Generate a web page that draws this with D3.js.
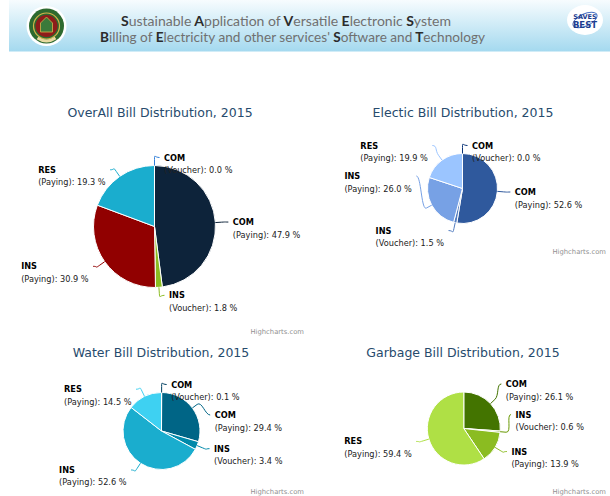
<!DOCTYPE html>
<html>
<head>
<meta charset="utf-8">
<script src="https://cdn.jsdelivr.net/npm/d3@7"></script>
<style>
  body { margin: 0; background: #fff; }
  svg { display: block; }
</style>
</head>
<body>
<div id="chart"></div>
<script>
// slice names, in drawing order (clockwise from 12 o'clock)
const categories = ["COM", "COM", "INS", "INS", "RES"];
const kinds = ["Voucher", "Paying", "Voucher", "Paying", "Paying"];

// shares in percent
const overallValues = [0.0, 47.9, 1.8, 30.9, 19.3];
const electricValues = [0.0, 52.6, 1.5, 26.0, 19.9];
const waterValues = [0.1, 29.4, 3.4, 52.6, 14.5];
const garbageValues = [null, 26.1, 0.6, 13.9, 59.4];

const chartTitles = [
  "OverAll Bill Distribution, 2015",
  "Electic Bill Distribution, 2015",
  "Water Bill Distribution, 2015",
  "Garbage Bill Distribution, 2015"
];
const headerLines = [
  "Sustainable Application of Versatile Electronic System",
  "Billing of Electricity and other services' Software and Technology"
];

const defaultColors = ["#2f7ed8", "#0d233a", "#8bbc21", "#910000", "#1aadce"];

// same shading rule as the highcharts monochrome pie demo
function brighten(hex, alpha) {
  const c = d3.rgb(hex), k = parseInt(alpha * 255);
  const cl = v => Math.max(0, Math.min(255, v));
  return d3.rgb(cl(c.r + k), cl(c.g + k), cl(c.b + k)).formatHex();
}
function monochrome(base) {
  return categories.map((_, i) => brighten(base, (i - 3) / 7));
}

const width = 610;
const height = 496;
const font = "'DejaVu Sans', Verdana, sans-serif";

const panels = [
  { values: overallValues, colors: defaultColors, title: chartTitles[0],
    tx: 160, ty: 117, cx: 154.5, cy: 226.5, r: 61, credX: 304, credY: 333.5 },
  { values: electricValues, colors: monochrome("#77a1e5"), title: chartTitles[1],
    tx: 463, ty: 117, cx: 462.5, cy: 188.5, r: 35, credX: 606, credY: 253.5 },
  { values: waterValues, colors: monochrome("#1aadce"), title: chartTitles[2],
    tx: 161, ty: 357, cx: 161.5, cy: 431, r: 38.5, credX: 304, credY: 493.5 },
  { values: garbageValues, colors: monochrome("#8bbc21"), title: chartTitles[3],
    tx: 463, ty: 357, cx: 463.8, cy: 428.5, r: 36.5, credX: 606, credY: 493.5 }
];

const svg = d3.select("#chart").append("svg")
    .attr("width", width)
    .attr("height", height)
    .attr("viewBox", [0, 0, width, height]);

// ---- header band ----
const defs = svg.append("defs");
const grad = defs.append("linearGradient")
    .attr("id", "band").attr("x1", 0).attr("y1", 0).attr("x2", 0).attr("y2", 1);
grad.append("stop").attr("offset", "0%").attr("stop-color", "#f7fcfe");
grad.append("stop").attr("offset", "100%").attr("stop-color", "#a4d9ef");

svg.append("rect")
    .attr("x", 9).attr("y", 0)
    .attr("width", width - 9).attr("height", 51.5)
    .attr("fill", "url(#band)");

// left seal
const seal = svg.append("g").attr("transform", "translate(46.5,26)");
seal.append("circle").attr("r", 20).attr("fill", "#fff");
seal.append("circle").attr("r", 17.5).attr("fill", "#2d6a2f");
seal.append("circle").attr("r", 13).attr("fill", "none").attr("stroke", "#d3b44a").attr("stroke-width", 1.2);
seal.append("circle").attr("r", 11).attr("fill", "#8d1d1a");
seal.append("path").attr("d", "M-6,-3L0,-9L6,-3V6H-6Z").attr("fill", "#3b7a3a").attr("stroke", "#d3b44a").attr("stroke-width", 0.8);
seal.append("path").attr("d", "M-9,12Q0,18 9,12").attr("fill", "none").attr("stroke", "#e7d9a0").attr("stroke-width", 3);

// right logo
const logo = svg.append("g").attr("transform", "translate(585,20)");
logo.append("ellipse").attr("rx", 18).attr("ry", 15).attr("fill", "#fff");
logo.append("ellipse").attr("rx", 13).attr("ry", 6).attr("fill", "none")
    .attr("stroke", "#4a72c4").attr("stroke-width", 1)
    .attr("transform", "rotate(-25)");
logo.append("text").attr("y", -1).attr("text-anchor", "middle")
    .attr("font-family", "'DejaVu Sans'").attr("font-weight", "bold")
    .attr("font-size", 6.5).attr("fill", "#1c3d8f").text("SAVES");
logo.append("text").attr("y", 8).attr("text-anchor", "middle")
    .attr("font-family", "'DejaVu Sans'").attr("font-weight", "bold")
    .attr("font-size", 8.5).attr("fill", "#1c3d8f").text("BEST");

// header text: capital initials drawn dark and bold
const headerPos = [{ x: 121, y: 26, w: 330 }, { x: 100, y: 41.5, w: 385 }];
headerLines.forEach((line, k) => {
  const t = svg.append("text")
      .attr("x", headerPos[k].x).attr("y", headerPos[k].y)
      .attr("font-family", "Lato, 'Open Sans', sans-serif")
      .attr("font-size", 12.5)
      .attr("fill", "#707070")
      .attr("textLength", headerPos[k].w)
      .attr("lengthAdjust", "spacingAndGlyphs");
  line.split(" ").forEach((word, j) => {
    const lead = j > 0 ? " " : "";
    if (/[A-Z]/.test(word[0])) {
      t.append("tspan").attr("fill", "#2b2b2b").attr("font-weight", "bold").text(lead + word[0]);
      t.append("tspan").text(word.slice(1));
    } else {
      t.append("tspan").text(lead + word);
    }
  });
});

// ---- pies ----
const pie = d3.pie().sort(null).value(d => d.value);

// highcharts-like label slots: labels are kept apart on each side
function layoutLabels(arcs, p) {
  const R = p.r + 8, h = 30.5;
  const pts = arcs.map(a => {
    const t = (a.startAngle + a.endAngle) / 2;
    return { a, t, half: t > Math.PI ? 1 : 0, natY: p.cy - R * Math.cos(t) };
  });
  [0, 1].forEach(half => {
    const list = pts.filter(q => q.half === half).sort((u, v) => u.natY - v.natY);
    const slots = [];
    for (let s = p.cy - R; s <= p.cy + R + 0.01; s += h) slots.push(s);
    const n = slots.length, len = list.length;
    const used = [];
    list.forEach((q, j) => {
      let best = 1e9, idx = 0;
      for (let k = 0; k < n; k++) {
        const dist = Math.abs(slots[k] - q.natY);
        if (dist < best) { best = dist; idx = k; }
      }
      if (idx < j && slots[j] !== null) {
        idx = j;
      } else if (n < len - j + idx && slots[j] !== null) {
        idx = n - len + j;
        while (slots[idx] === null) idx++;
      } else {
        while (slots[idx] === null) idx++;
      }
      used.push({ i: idx, y: slots[idx] });
      slots[idx] = null;
    });
    used.sort((u, v) => v.y - u.y);
    list.forEach(q => {
      const s = used.pop();
      let y = s.y;
      if ((q.natY > y && slots[s.i + 1] !== null) || (q.natY < y && slots[s.i - 1] !== null)) y = q.natY;
      q.y = y;
      q.edge = s.i === 0 || s.i === n - 1;
    });
  });
  pts.forEach(q => {
    const yy = q.edge ? q.natY : q.y;
    const s = Math.max(-1, Math.min(1, (yy - p.cy) / R));
    q.x = p.cx + (q.half ? -1 : 1) * Math.cos(Math.asin(s)) * R;
  });
  return pts;
}

panels.forEach(p => {
  svg.append("text")
      .attr("x", p.tx).attr("y", p.ty)
      .attr("text-anchor", "middle")
      .attr("font-family", font)
      .attr("font-size", 12.5)
      .attr("fill", "#274b6d")
      .text(p.title);

  const rows = p.values
      .map((v, i) => ({ i, value: v }))
      .filter(d => d.value !== null);
  const arcs = pie(rows);
  const arc = d3.arc().innerRadius(0).outerRadius(p.r);

  const g = svg.append("g").attr("transform", `translate(${p.cx},${p.cy})`);
  g.selectAll("path")
    .data(arcs)
    .join("path")
      .attr("d", arc)
      .attr("fill", d => p.colors[d.data.i])
      .attr("stroke", "#fff")
      .attr("stroke-width", 1)
      .attr("stroke-linejoin", "round");

  const pts = layoutLabels(arcs, p);

  pts.forEach(q => {
    const i = q.a.data.i;
    const sx = Math.sin(q.t), sy = -Math.cos(q.t);
    const ex = p.cx + p.r * sx, ey = p.cy + p.r * sy;
    const bx = p.cx + (p.r + 6) * sx, by = p.cy + (p.r + 6) * sy;
    const x0 = q.x + (q.half ? -5 : 5);
    svg.append("path")
        .attr("d", `M${x0},${q.y}C${q.x},${q.y} ${2 * bx - ex},${2 * by - ey} ${bx},${by}L${ex},${ey}`)
        .attr("fill", "none")
        .attr("stroke", p.colors[i])
        .attr("stroke-width", 1);
  });

  pts.forEach(q => {
    const i = q.a.data.i;
    const t = svg.append("text")
        .attr("font-family", font)
        .attr("font-size", 8.2);
    const l1 = t.append("tspan")
        .attr("y", q.y + 3)
        .attr("font-weight", "bold")
        .attr("fill", "#000")
        .text(categories[i]);
    const l2 = t.append("tspan")
        .attr("y", q.y + 15.5)
        .attr("fill", "#222")
        .text(`(${kinds[i]}): ${q.a.data.value.toFixed(1)} %`);
    // labels are left-aligned blocks; on the left side the block ends at the connector
    const w = Math.max(l1.node().getComputedTextLength(), l2.node().getComputedTextLength());
    const lx = q.half ? q.x - 9.5 - w : q.x + 9.5;
    l1.attr("x", lx);
    l2.attr("x", lx);
  });

  svg.append("text")
      .attr("x", p.credX).attr("y", p.credY)
      .attr("text-anchor", "end")
      .attr("font-family", font)
      .attr("font-size", 6.8)
      .attr("fill", "#909090")
      .text("Highcharts.com");
});
</script>
</body>
</html>
